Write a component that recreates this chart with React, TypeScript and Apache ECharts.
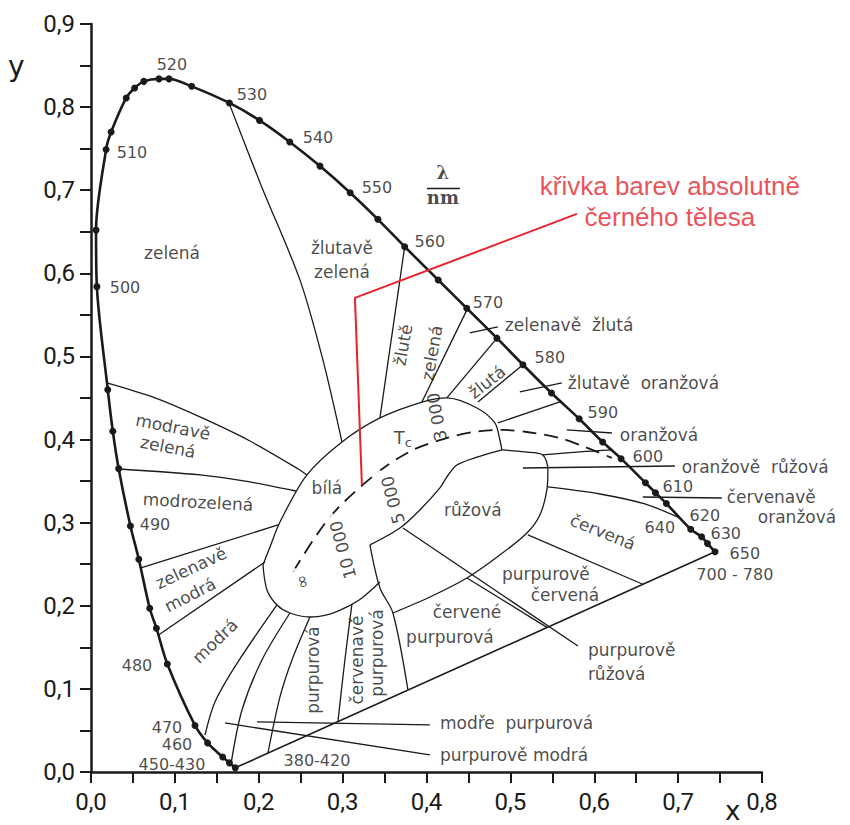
import React, { useEffect, useRef } from "react";
import * as echarts from "echarts";

type P = [number, number];

// Spectral locus (dots)
const spectralLocus: P[] = [
  [0.172, 0.005], [0.165, 0.011], [0.157, 0.018], [0.139, 0.035], [0.124, 0.056],
  [0.091, 0.130], [0.078, 0.173], [0.070, 0.197], [0.057, 0.256], [0.047, 0.296],
  [0.033, 0.365], [0.026, 0.410], [0.020, 0.460], [0.007, 0.584], [0.006, 0.652],
  [0.018, 0.749], [0.024, 0.770], [0.042, 0.811], [0.052, 0.823], [0.063, 0.831],
  [0.081, 0.834], [0.093, 0.834], [0.120, 0.825], [0.165, 0.805], [0.201, 0.784],
  [0.237, 0.758], [0.273, 0.729], [0.309, 0.697], [0.342, 0.665], [0.374, 0.632],
  [0.414, 0.592], [0.448, 0.558], [0.484, 0.522], [0.515, 0.490], [0.549, 0.456],
  [0.582, 0.425], [0.610, 0.397], [0.632, 0.377], [0.661, 0.348], [0.673, 0.336],
  [0.686, 0.323], [0.715, 0.292], [0.728, 0.283], [0.735, 0.275], [0.744, 0.265],
];
const purpleLine: P[] = [[0.172, 0.005], [0.744, 0.265]];

// Region boundaries
const zelenaBorder: P[] = [[0.1645, 0.8051], [0.2026, 0.7064], [0.2491, 0.5921], [0.2765, 0.4958], [0.2992, 0.3971]];
const line560: P[] = [[0.374, 0.632], [0.3445, 0.426]];
const line570: P[] = [[0.4482, 0.556], [0.3945, 0.4452]];
const line575: P[] = [[0.484, 0.522], [0.4243, 0.4501]];
const line580: P[] = [[0.515, 0.49], [0.4613, 0.4452]];
const line587: P[] = [[0.559, 0.4452], [0.4851, 0.42]];
const pinkTopToLocus: P[] = [[0.5387, 0.3815], [0.5828, 0.3851], [0.6222, 0.3875]];
const redTop: P[] = [[0.5447, 0.343], [0.6067, 0.3345], [0.6603, 0.3225], [0.702, 0.3057]];
const redBottom: P[] = [[0.5209, 0.2852], [0.6579, 0.2259]];
const whiteTop: P[] = [
  [0.205, 0.2491], [0.2134, 0.2708], [0.2253, 0.3008], [0.2574, 0.3574], [0.2992, 0.3971],
  [0.3445, 0.426], [0.3957, 0.4453], [0.4243, 0.4501], [0.4601, 0.438], [0.4815, 0.42],
  [0.4875, 0.3995], [0.4899, 0.3875],
];
const pinkOutline: P[] = [
  [0.4899, 0.3875], [0.5173, 0.3851], [0.5387, 0.3815], [0.5447, 0.3634], [0.5435, 0.3394],
  [0.5352, 0.3093], [0.5197, 0.2876], [0.4875, 0.2611], [0.4482, 0.2335], [0.404, 0.2106],
  [0.36, 0.1913],
];
const whiteBottom: P[] = [
  [0.3445, 0.2286], [0.323, 0.2094], [0.3051, 0.1986], [0.2849, 0.1901], [0.261, 0.1865],
  [0.2372, 0.1913], [0.2217, 0.201], [0.2098, 0.219], [0.205, 0.2491],
];
const whitePinkDivider: P[] = [
  [0.4899, 0.3875], [0.4613, 0.3791], [0.4362, 0.3694], [0.4243, 0.355], [0.416, 0.3418],
  [0.3921, 0.3153], [0.3683, 0.2936], [0.3325, 0.2732],
];
const reddishPurpleRight: P[] = [[0.3325, 0.2732], [0.3445, 0.2214], [0.36, 0.1913], [0.3778, 0.099]];
const redPurpleRight: P[] = [[0.4482, 0.2335], [0.5435, 0.174]];
const fan1: P[] = [[0.2217, 0.201], [0.1752, 0.1324], [0.1478, 0.0843], [0.1359, 0.0445]];
const fan2: P[] = [[0.2372, 0.1913], [0.2038, 0.1348], [0.18, 0.0746], [0.1669, 0.0096]];
const fan3: P[] = [[0.261, 0.1865], [0.2396, 0.1348], [0.2253, 0.0903], [0.211, 0.0229]];
const fan4: P[] = [[0.3111, 0.2022], [0.3027, 0.1348], [0.2944, 0.0606]];
const blueGreenTop: P[] = [[0.019, 0.4681], [0.0763, 0.4501], [0.1299, 0.4272], [0.1895, 0.3983], [0.2491, 0.3634], [0.2574, 0.3574]];
const cyanTop: P[] = [[0.034, 0.3646], [0.1299, 0.3574], [0.1895, 0.349], [0.2443, 0.3381]];
const greenBlueTop: P[] = [[0.0595, 0.2455], [0.2229, 0.2972]];
const blueTop: P[] = [[0.0805, 0.1649], [0.2074, 0.2527]];

// Leader lines
const leaderYG: P[] = [[0.4517, 0.5283], [0.4851, 0.5355]];
const leaderYO: P[] = [[0.5113, 0.4573], [0.5614, 0.4681]];
const leaderO: P[] = [[0.5673, 0.4116], [0.621, 0.4079]];
const leaderOP: P[] = [[0.5149, 0.3658], [0.6961, 0.3682]];
const leaderRO: P[] = [[0.6579, 0.3309], [0.7521, 0.3297]];
const leaderPP: P[] = [[0.3719, 0.2936], [0.5805, 0.1516]];
const leaderBP: P[] = [[0.1979, 0.0602], [0.404, 0.0566]];
const leaderPB: P[] = [[0.1597, 0.059], [0.404, 0.0205]];
const lambdaBar: P[] = [[0.4005, 0.7022], [0.4398, 0.7022]];

// Planckian locus (dashed) and its marks
const planckian: P[] = [
  [0.2408, 0.2407], [0.2849, 0.3069], [0.3409, 0.3598], [0.3838, 0.3875], [0.4243, 0.4019],
  [0.4553, 0.4091], [0.4911, 0.4116], [0.5197, 0.4091], [0.559, 0.4019], [0.5888, 0.3911],
  [0.621, 0.3779],
];
const planckMarks: P[] = [[0.2408, 0.2407], [0.2849, 0.3069], [0.3409, 0.3598]];
const redPointer: P[] = [[0.5793, 0.6715], [0.3147, 0.5704], [0.323, 0.3454]];

// Texts
const wavelengthLabels: [string, number, number][] = [
  ["520", 0.0965, 0.8508], ["510", 0.0489, 0.7449], ["500", 0.0405, 0.5824], ["530", 0.1919, 0.8147],
  ["540", 0.2706, 0.763], ["550", 0.3409, 0.7028], ["560", 0.404, 0.6378], ["570", 0.4732, 0.5644],
  ["580", 0.5471, 0.4982], ["590", 0.6102, 0.432], ["600", 0.6639, 0.3791], ["610", 0.6996, 0.343],
  ["620", 0.7318, 0.3081], ["630", 0.7568, 0.2864], ["640", 0.6782, 0.2936], ["650", 0.7795, 0.2635],
  ["700 - 780", 0.7676, 0.2371], ["490", 0.0763, 0.2972], ["480", 0.0548, 0.1276], ["470", 0.0906, 0.054],
  ["460", 0.1025, 0.0335], ["450-430", 0.0965, 0.0095], ["380-420", 0.2694, 0.0144],
];
const regionLabels: [string, number, number][] = [
  ["zelená", 0.0965, 0.6246], ["žlutavě", 0.2992, 0.6306], ["zelená", 0.2992, 0.6017],
  ["žlutě", 0.3719, 0.5139], ["zelená", 0.4064, 0.5042], ["zelenavě  žlutá", 0.4934, 0.5379],
  ["žlutá", 0.472, 0.4693], ["žlutavě  oranžová", 0.5685, 0.4681], ["oranžová", 0.6305, 0.4055],
  ["oranžově  růžová", 0.7044, 0.367], ["červenavě", 0.758, 0.3309], ["oranžová", 0.795, 0.3069],
  ["červená", 0.6102, 0.2888], ["růžová", 0.4553, 0.3153], ["bílá", 0.2813, 0.3418],
  ["modravě", 0.0977, 0.4152], ["zelená", 0.0918, 0.3911], ["modrozelená", 0.1275, 0.3249],
  ["zelenavě", 0.1192, 0.2455], ["modrá", 0.118, 0.213], ["modrá", 0.1478, 0.1576],
  ["purpurová", 0.2646, 0.1227], ["červenavě", 0.317, 0.1348], ["purpurová", 0.3409, 0.1432],
  ["červené", 0.4482, 0.1925], ["purpurová", 0.4279, 0.1625], ["purpurově", 0.5423, 0.2383],
  ["červená", 0.565, 0.213], ["purpurově", 0.5924, 0.1468], ["růžová", 0.5924, 0.1179],
  ["modře  purpurová", 0.416, 0.059], ["purpurově modrá", 0.416, 0.0205],
];
const regionLabelAngles = [0, 0, 0, 80, 80, 0, 38, 0, 0, 0, 0, 0, -22, 0, 0, -11, -11, -3, 25, 27, 44, 90, 90, 90, 0, 0, 0, 0, 0, 0, 0, 0];
const leftAligned = [5, 7, 8, 9, 10, 11, 28, 29, 30, 31];
const temperatureLabels: [string, number, number][] = [
  ["10 000", 0.3004, 0.2672], ["5 000", 0.3599, 0.3273], ["3 000", 0.4124, 0.4272], ["∞", 0.2515, 0.2286],
];
const temperatureAngles = [105, 105, 100, 105];
const lambdaLabels: [string, number, number][] = [["λ", 0.4195, 0.7208], ["nm", 0.4195, 0.6907]];
const tcLabel: [string, number, number][] = [["T", 0.3719, 0.4019]];
const redLabels: [string, number, number][] = [
  ["křivka barev absolutně", 0.6901, 0.7052], ["černého tělesa", 0.6901, 0.6679],
];

const INK = "#1a1a1a";
const RED = "#e8222d";

function lineSeries(data: P[], extra: any = {}) {
  return {
    type: "line",
    data,
    symbol: "none",
    smooth: data.length > 2 ? 0.3 : false,
    silent: true,
    lineStyle: { color: INK, width: 1.3 },
    z: 3,
    ...extra,
  };
}

function textSeries(items: [string, number, number][], label: any, angles?: number[], aligns?: number[], fixedFormatter?: string) {
  return {
    type: "scatter",
    silent: true,
    symbol: "circle",
    symbolSize: 1,
    itemStyle: { color: "rgba(0,0,0,0)" },
    z: 10,
    label: { show: true, position: "inside", verticalAlign: "middle", ...label },
    data: items.map(([t, x, y], i) => ({
      value: [x, y],
      label: {
        formatter: fixedFormatter || t,
        rotate: angles ? angles[i] : 0,
        align: aligns && aligns.includes(i) ? "left" : "center",
      },
    })),
  };
}

export default function App() {
  const ref = useRef<HTMLDivElement>(null);
  useEffect(() => {
    if (!ref.current) return;
    const chart = echarts.init(ref.current, undefined, { renderer: "svg" });
    const fmt = (v: number) => v.toFixed(1).replace(".", ",");
    const axisCommon = {
      type: "value",
      splitLine: { show: false },
      axisLine: { show: true, onZero: false, lineStyle: { color: INK, width: 2.5 } },
      axisTick: { show: true, length: 11, lineStyle: { color: INK, width: 2 } },
      minorTick: { show: true, splitNumber: 2, length: 11, lineStyle: { color: INK, width: 2 } },
      interval: 0.1,
      min: 0,
    };
    const boundaries = [
      zelenaBorder, line560, line570, line575, line580, line587, pinkTopToLocus, redTop, redBottom,
      whiteTop, pinkOutline, whiteBottom, whitePinkDivider, reddishPurpleRight, redPurpleRight,
      fan1, fan2, fan3, fan4, blueGreenTop, cyanTop, greenBlueTop, blueTop,
      leaderYG, leaderYO, leaderO, leaderOP, leaderRO, leaderPP, leaderBP, leaderPB,
    ];
    const option: any = {
      animation: false,
      backgroundColor: "#ffffff",
      grid: { left: 91, right: 88, top: 24, bottom: 53 },
      xAxis: {
        ...axisCommon,
        max: 0.8,
        axisLabel: { formatter: fmt, fontSize: 24, fontFamily: "Roboto", color: INK, margin: 18 },
      },
      yAxis: {
        ...axisCommon,
        max: 0.9,
        axisLabel: { formatter: fmt, fontSize: 24, fontFamily: "Roboto", color: INK, margin: 16 },
      },
      graphic: [
        { type: "text", left: 8, top: 52, style: { text: "y", font: "28px DejaVu Sans", fill: INK } },
        { type: "text", left: 725, top: 798, style: { text: "x", font: "26px DejaVu Sans", fill: INK } },
      ],
      series: [
        ...boundaries.map((d) => lineSeries(d)),
        lineSeries(lambdaBar, { lineStyle: { color: INK, width: 1.5 } }),
        lineSeries(purpleLine, { lineStyle: { color: INK, width: 1.6 } }),
        lineSeries(planckian, { lineStyle: { color: INK, width: 1.8, type: [14, 8] } }),
        {
          type: "scatter",
          silent: true,
          data: planckMarks,
          symbol: "emptyCircle",
          symbolSize: 7,
          itemStyle: { color: "#fff", borderColor: INK, borderWidth: 1.4 },
          z: 6,
        },
        lineSeries(redPointer, { smooth: false, lineStyle: { color: RED, width: 2 }, z: 5 }),
        {
          type: "line",
          silent: true,
          data: spectralLocus,
          smooth: 0.3,
          symbol: "circle",
          symbolSize: 7,
          itemStyle: { color: INK },
          lineStyle: { color: INK, width: 2.6 },
          z: 4,
        },
        textSeries(wavelengthLabels, { fontSize: 16, fontFamily: "DejaVu Sans", color: INK }),
        textSeries(regionLabels, { fontSize: 17, fontFamily: "DejaVu Sans", color: INK }, regionLabelAngles, leftAligned),
        textSeries(temperatureLabels, { fontSize: 17, fontFamily: "DejaVu Sans", color: INK }, temperatureAngles),
        textSeries(lambdaLabels, { fontSize: 18, fontFamily: "DejaVu Serif", fontWeight: "bold", color: INK }),
        textSeries(
          tcLabel,
          {
            fontSize: 18,
            fontFamily: "DejaVu Sans",
            color: INK,
            rich: { s: { fontSize: 13, fontFamily: "DejaVu Sans", padding: [10, 0, 0, 0], color: INK } },
          },
          undefined,
          undefined,
          "T{s|c}"
        ),
        textSeries(redLabels, { fontSize: 26, fontFamily: "Liberation Sans", color: RED }),
      ],
    };
    chart.setOption(option);
    return () => chart.dispose();
  }, []);
  return (
    <div
      ref={ref}
      style={{ position: "fixed", left: 0, top: 0, width: 850, height: 825, background: "#fff" }}
    />
  );
}
